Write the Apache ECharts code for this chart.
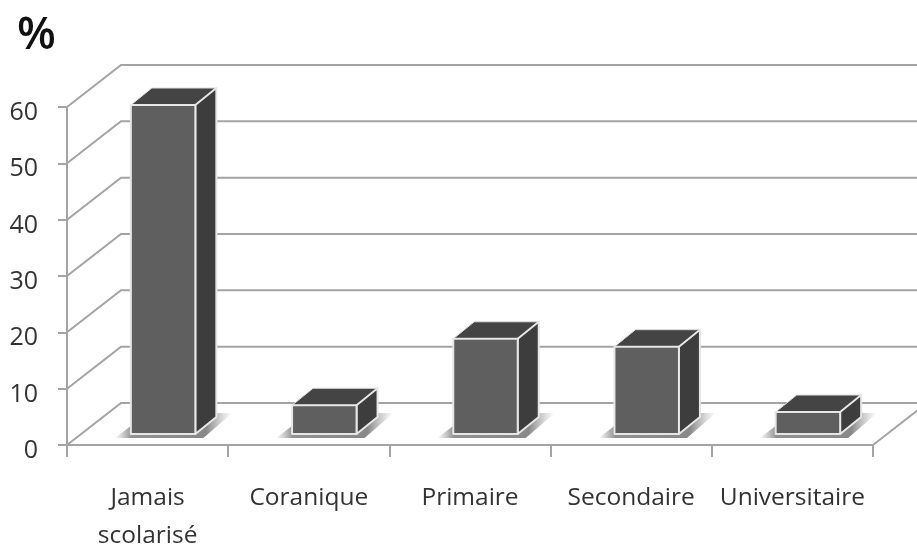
<!DOCTYPE html>
<html><head><meta charset="utf-8">
<style>html,body{margin:0;padding:0;background:#fff}#c{width:917px;height:546px}</style>
<script src="https://cdn.jsdelivr.net/npm/echarts@6/dist/echarts.min.js"></script>
</head><body><div id="c"></div>
<script>
const categories = ['Jamais\nscolarisé', 'Coranique', 'Primaire', 'Secondaire', 'Universitaire'];
const percentages = [58.4, 5.1, 16.9, 15.5, 3.9];
const yTicks = [0, 10, 20, 30, 40, 50, 60];
const wallX = 54, wallY = 42, barDx = 21, barDy = 17, shiftX = 15.5, shiftY = 11;
const FONT = '"Open Sans"';
const gridColor = '#a4a4a4';

const chart = echarts.init(document.getElementById('c'), null, {renderer: 'canvas'});
chart.setOption({
  animation: false,
  backgroundColor: '#fff',
  title: {text: '%', left: 12, top: 9, textStyle: {fontFamily: FONT, fontSize: 45, fontWeight: 600, color: '#111'}},
  grid: {left: 67, right: 44, top: 107, bottom: 101, outerBoundsMode: 'none'},
  xAxis: {type: 'category', data: categories, boundaryGap: true,
    axisLine: {show: true, lineStyle: {color: gridColor, width: 2}},
    axisTick: {show: true, length: 12, alignWithLabel: false, lineStyle: {color: gridColor, width: 2}},
    axisLabel: {fontFamily: FONT, fontSize: 24.5, color: '#333', margin: 34, lineHeight: 38, interval: 0},
    splitLine: {show: false}},
  yAxis: {type: 'value', min: 0, max: 60, interval: 10,
    axisLine: {show: true, lineStyle: {color: gridColor, width: 2}},
    axisTick: {show: true, length: 9, lineStyle: {color: gridColor, width: 2}},
    axisLabel: {fontFamily: FONT, fontSize: 25, color: '#333', margin: 29, verticalAlign: 'top', lineHeight: 12},
    splitLine: {show: false}},
  series: [
    {type: 'custom', silent: true, z: 1, data: yTicks.map(t => [0, t]),
     encode: {x: 0, y: 1},
     renderItem(params, api) {
       const cs = params.coordSys;
       const y = api.coord([0, api.value(1)])[1];
       const pts = [[cs.x, y], [cs.x + wallX, y - wallY], [cs.x + cs.width + wallX, y - wallY]];
       const children = [{type: 'polyline', shape: {points: pts}, style: {stroke: gridColor, lineWidth: 2, fill: null}}];
       if (api.value(1) === 0) {
         children.push({type: 'line', shape: {x1: cs.x + cs.width, y1: y, x2: cs.x + cs.width + wallX, y2: y - wallY},
           style: {stroke: gridColor, lineWidth: 2}});
       }
       return {type: 'group', children};
     }},
    {type: 'custom', silent: true, z: 2, data: percentages.map((v, i) => [i, v]),
     encode: {x: 0, y: 1},
     renderItem(params, api) {
       const i = api.value(0);
       const c0 = api.coord([i, 0]), c1 = api.coord([i, api.value(1)]);
       const w = api.size([1, 0])[0] * 0.4;
       const x0 = c0[0] + shiftX - w / 2, x1 = x0 + w;
       const yb = c0[1] - shiftY, yt = c1[1] - shiftY;
       const edge = {stroke: '#e6e6e6', lineWidth: 2, lineJoin: 'round'};
       const shadow = {type: 'linear', x: 0, y: 0, x2: 1, y2: 0, colorStops: [
         {offset: 0, color: 'rgba(150,150,150,0)'}, {offset: 0.14, color: 'rgba(140,140,140,.95)'},
         {offset: 0.78, color: 'rgba(130,130,130,.95)'}, {offset: 1, color: 'rgba(170,170,170,0)'}]};
       return {type: 'group', children: [
         {type: 'polygon', shape: {points: [[x0 - 16, yb + 4], [x1 + 8, yb + 4], [x1 + 37, yb - 21], [x0 + 17, yb - 21]]},
          style: {fill: shadow}},
         {type: 'polygon', shape: {points: [[x0, yt], [x0 + barDx, yt - barDy], [x1 + barDx, yt - barDy], [x1, yt]]},
          style: Object.assign({fill: '#444444'}, edge, {stroke: '#dcdcdc', lineWidth: 1})},
         {type: 'polygon', shape: {points: [[x1, yt], [x1 + barDx, yt - barDy], [x1 + barDx, yb - barDy], [x1, yb]]},
          style: Object.assign({fill: '#3d3d3d'}, edge)},
         {type: 'rect', shape: {x: x0, y: yt, width: w, height: yb - yt},
          style: Object.assign({fill: '#5f5f5f'}, edge)}
       ]};
     }}
  ]
});
</script></body></html>
